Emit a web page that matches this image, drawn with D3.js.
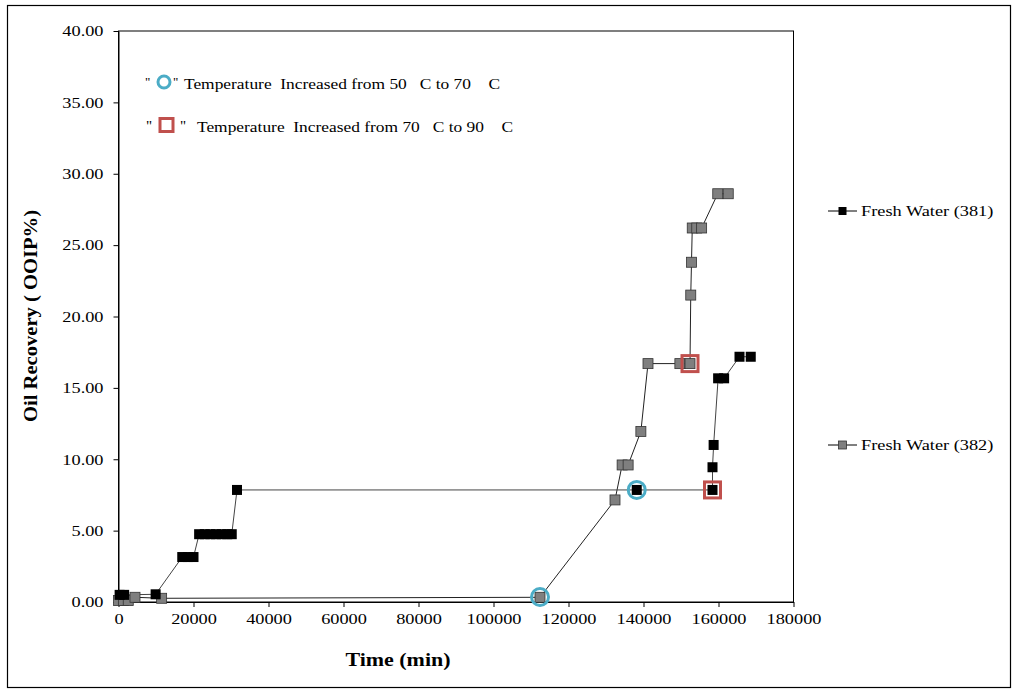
<!DOCTYPE html>
<html>
<head>
<meta charset="utf-8">
<script src="https://cdnjs.cloudflare.com/ajax/libs/d3/7.8.5/d3.min.js"></script>
<style>
  body { margin: 0; background: #fff; }
  text { font-family: "Liberation Serif", "Times New Roman", serif; fill: #000; }
</style>
</head>
<body>
<svg id="chart" width="1017" height="693"></svg>
<script>
// Fresh Water (381) - black markers  [time (min), recovery %]
const fw381 = [
  [300, 0.5], [1500, 0.5], [9900, 0.54],
  [17000, 3.15], [18500, 3.15], [20000, 3.15],
  [21500, 4.75], [23000, 4.75], [24500, 4.75], [26000, 4.75], [27500, 4.75], [29000, 4.75], [30200, 4.75],
  [31600, 7.85], [138200, 7.85], [158400, 7.85], [158400, 9.44], [158700, 11.0],
  [159900, 15.67], [161500, 15.67], [165600, 17.18], [168600, 17.18]
];
// Fresh Water (382) - grey markers
const fw382 = [
  [0, 0.1], [1300, 0.1], [2600, 0.1], [4400, 0.33], [11500, 0.26],
  [112400, 0.33], [132400, 7.15], [134300, 9.6], [135900, 9.6], [139300, 11.95],
  [141200, 16.7], [149700, 16.7], [152400, 16.7], [152600, 21.5], [152800, 23.8],
  [153000, 26.2], [154200, 26.2], [155500, 26.2], [159800, 28.6], [162600, 28.6]
];
// temperature change markers
const rise50to70 = [[112400, 0.35], [138200, 7.85]];
const rise70to90 = [[152400, 16.7], [158400, 7.85]];

const xTicks = d3.range(0, 180001, 20000);
const yTicks = d3.range(0, 40.01, 5);
const seriesNames = ["Fresh Water (381)", "Fresh Water (382)"];

const svg = d3.select("#chart");
const margin = { top: 31, left: 118.5 };
const width = 675, height = 571;
const stretch = 1.22; // source text is slightly wide

// outer frame
svg.append("rect")
  .attr("x", 7.5).attr("y", 5.5)
  .attr("width", 1003).attr("height", 682)
  .attr("fill", "none").attr("stroke", "#000").attr("stroke-width", 1.2);

const g = svg.append("g").attr("transform", `translate(${margin.left},${margin.top})`);

const x = d3.scaleLinear().domain([0, 180000]).range([0, width]);
const y = d3.scaleLinear().domain([0, 40]).range([height, 0]);

// plot box
g.append("rect")
  .attr("width", width).attr("height", height)
  .attr("fill", "none").attr("stroke", "#000");

// axes
const xAxis = g.append("g")
  .attr("transform", `translate(0,${height})`)
  .call(d3.axisBottom(x).tickValues(xTicks).tickSize(5).tickSizeOuter(0).tickPadding(6).tickFormat(d3.format("d")));
const yAxis = g.append("g")
  .call(d3.axisLeft(y).tickValues(yTicks).tickSize(5).tickSizeOuter(0).tickPadding(10).tickFormat(d3.format(".2f")));
[xAxis, yAxis].forEach(a => {
  a.select(".domain").attr("stroke", "#000");
  a.selectAll(".tick line").attr("stroke", "#000");
  a.selectAll("text").style("font-family", "Liberation Serif").style("font-size", "15px");
});

// series lines
const line = d3.line().x(d => x(d[0])).y(d => y(d[1]));
g.append("path").datum(fw382)
  .attr("fill", "none").attr("stroke", "#222").attr("stroke-width", 1).attr("d", line);
g.append("path").datum(fw381)
  .attr("fill", "none").attr("stroke", "#444").attr("stroke-width", 1).attr("d", line);

// markers
const ms = 10;
g.selectAll(".m382").data(fw382).join("rect")
  .attr("x", d => x(d[0]) - ms / 2).attr("y", d => y(d[1]) - ms / 2)
  .attr("width", ms).attr("height", ms)
  .attr("fill", "#7f7f7f").attr("stroke", "#333").attr("stroke-width", 0.8);
g.selectAll(".m381").data(fw381).join("rect")
  .attr("x", d => x(d[0]) - ms / 2).attr("y", d => y(d[1]) - ms / 2)
  .attr("width", ms).attr("height", ms)
  .attr("fill", "#000");

// annotation shapes
g.selectAll(".circ").data(rise50to70).join("circle")
  .attr("cx", d => x(d[0])).attr("cy", d => y(d[1])).attr("r", 8.5)
  .attr("fill", "none").attr("stroke", "#4bacc6").attr("stroke-width", 3);
g.selectAll(".sq").data(rise70to90).join("rect")
  .attr("x", d => x(d[0]) - 8).attr("y", d => y(d[1]) - 8)
  .attr("width", 16).attr("height", 16)
  .attr("fill", "none").attr("stroke", "#c0504d").attr("stroke-width", 3);

// note box in the top-left
const note = svg.append("g");
note.append("text").attr("x", 145).attr("y", 86).style("font-size", "13px").text('"');
note.append("circle").attr("cx", 164).attr("cy", 82).attr("r", 6)
  .attr("fill", "none").attr("stroke", "#4bacc6").attr("stroke-width", 3);
note.append("text").attr("x", 173).attr("y", 86).style("font-size", "13px").text('"');
note.append("text").attr("x", 184).attr("y", 89).style("font-size", "15px")
  .attr("xml:space", "preserve")
  .attr("textLength", 316).attr("lengthAdjust", "spacingAndGlyphs")
  .text("Temperature  Increased from 50   C to 70    C");

note.append("text").attr("x", 146).attr("y", 131).style("font-size", "15px").text('"');
note.append("rect").attr("x", 160).attr("y", 118.5).attr("width", 13).attr("height", 13)
  .attr("fill", "none").attr("stroke", "#c0504d").attr("stroke-width", 3);
note.append("text").attr("x", 180).attr("y", 131).style("font-size", "15px").text('"');
note.append("text").attr("x", 197).attr("y", 132).style("font-size", "15px")
  .attr("xml:space", "preserve")
  .attr("textLength", 316).attr("lengthAdjust", "spacingAndGlyphs")
  .text("Temperature  Increased from 70   C to 90    C");

// legend on the right
const legendY = [211, 445];
const fills = ["#000", "#7f7f7f"];
seriesNames.forEach((name, i) => {
  const lg = svg.append("g").attr("transform", `translate(828,${legendY[i]})`);
  lg.append("line").attr("x1", 0).attr("x2", 29).attr("stroke", "#000");
  lg.append("rect").attr("x", 10.5).attr("y", -4).attr("width", 8).attr("height", 8)
    .attr("fill", fills[i]).attr("stroke", i ? "#333" : "none").attr("stroke-width", 0.8);
  lg.append("text").attr("class", "wide").attr("x", 33).attr("y", 5)
    .style("font-size", "15px").text(name);
});

// axis titles
svg.append("text").attr("class", "wide")
  .attr("x", 398).attr("y", 666).attr("text-anchor", "middle")
  .style("font-size", "18px").style("font-weight", "bold").text("Time (min)");
svg.append("text")
  .attr("transform", "translate(37,316) rotate(-90)").attr("text-anchor", "middle")
  .attr("textLength", 212).attr("lengthAdjust", "spacingAndGlyphs")
  .style("font-size", "19px").style("font-weight", "bold").text("Oil Recovery ( OOIP%)");

// widen text to match the stretched source rendering
xAxis.selectAll("text").classed("wide", true);
yAxis.selectAll("text").classed("wide", true);
svg.selectAll("text.wide").each(function() {
  const w = this.getComputedTextLength();
  d3.select(this).attr("textLength", w * stretch).attr("lengthAdjust", "spacingAndGlyphs");
});
</script>
</body>
</html>
